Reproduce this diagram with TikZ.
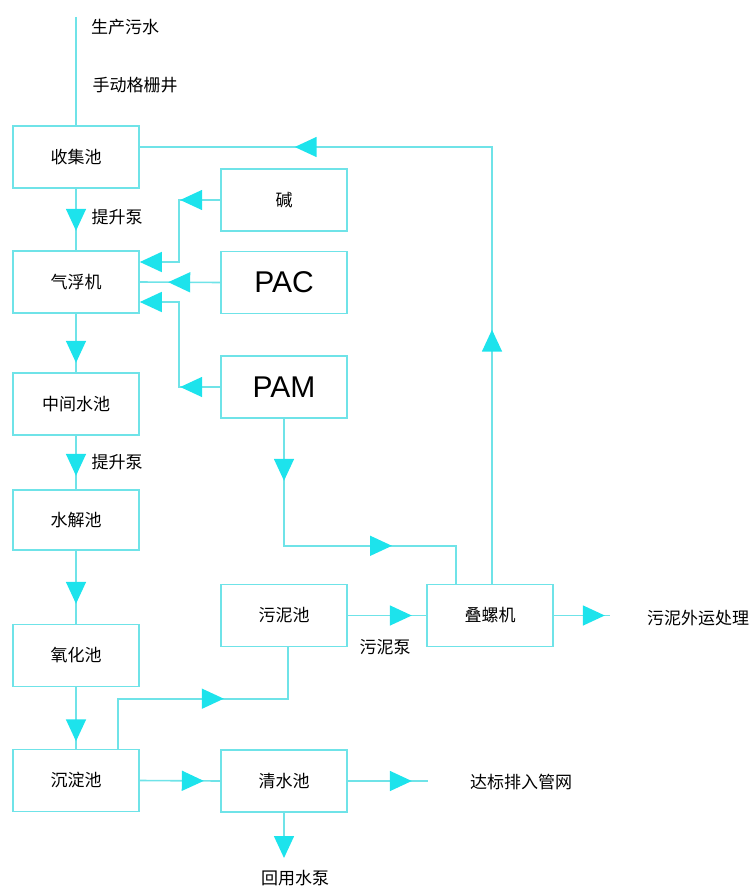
\documentclass[tikz,border=0pt]{standalone}
\usepackage{fontspec}
\setmainfont{Liberation Sans}
\newfontfamily\cjk{Noto Sans CJK SC}
\usetikzlibrary{arrows.meta,decorations.markings}
\definecolor{ln}{HTML}{6FE3E8}
\definecolor{ah}{HTML}{1DE3EC}
\tikzset{
  box/.style={draw=ln, line width=1.6pt, minimum width=126pt, minimum height=62pt, inner sep=0pt, font=\cjk\fontsize{17}{17}\selectfont},
  chem/.style={box, font=\fontsize{30}{30}\selectfont},
  conn/.style={draw=ln, line width=1.6pt},
  endtip/.style={-{Triangle[length=22pt,width=20pt,color=ah]}},
  arrowat/.style={postaction={decorate,decoration={markings,mark=at position #1 with {\arrow{Triangle[length=22pt,width=20pt,color=ah]}}}}},
  lbl/.style={font=\cjk\fontsize{17}{17}\selectfont, inner sep=0pt}
}
\begin{document}
\begin{tikzpicture}[x=1pt,y=-1pt]
\useasboundingbox (0,0) rectangle (754,896);
% boxes
\node[box] (sj)  at (76,157)   {收集池};
\node[box] (qf)  at (76,282)   {气浮机};
\node[box] (zj)  at (76,404)   {中间水池};
\node[box, minimum height=60pt] (sjc) at (76,520) {水解池};
\node[box] (yh)  at (76,655.5) {氧化池};
\node[box] (cd)  at (76,780.5) {沉淀池};
\node[box] (jian) at (284,200) {碱};
\node[chem] (pac) at (284,282.5) {PAC};
\node[chem] (pam) at (284,387) {PAM};
\node[box] (wn)  at (284,615.5) {污泥池};
\node[box] (qs)  at (284,781)   {清水池};
\node[box] (dl)  at (490,615.5) {叠螺机};
% free ends
\coordinate (in) at (76,17);
\coordinate (outsl) at (610,615.5);
\coordinate (outqs) at (428,781);
\coordinate (outhy) at (284,858);
% labels
\node[lbl] (t1) at (125,27) {生产污水};
\node[lbl] (t2) at (135,85) {手动格栅井};
\node[lbl] (t3) at (117,217) {提升泵};
\node[lbl] (t4) at (117,462) {提升泵};
\node[lbl] (t5) at (385,647) {污泥泵};
\node[lbl] (t6) at (698,618) {污泥外运处理};
\node[lbl] (t7) at (521,782) {达标排入管网};
\node[lbl] (t8) at (295,878) {回用水泵};
% main chain
\draw[conn] (in) -- (sj.north);
\draw[conn, arrowat=42pt] (sj.south) -- (qf.north);
\draw[conn, arrowat=49pt] (qf.south) -- (zj.north);
\draw[conn, arrowat=40pt] (zj.south) -- (sjc.north);
\draw[conn, arrowat=53pt] (sjc.south) -- (yh.north);
\draw[conn, arrowat=54pt] (yh.south) -- (cd.north);
\draw[conn, arrowat=64pt] (cd.east) -- (qs.west);
\draw[conn, arrowat=156pt] ([xshift=-22pt]cd.north east) -- ++(0,-50) -| ([xshift=4pt]wn.south);
\draw[conn, arrowat=64pt] (wn.east) -- (dl.west);
\draw[conn, arrowat=51pt] (dl.east) -- (outsl);
\draw[conn, arrowat=64pt] (qs.east) -- (outqs);
\draw[conn, endtip] (qs.south) -- (outhy);
% sludge loop
\draw[conn, arrowat=62pt, arrowat=235pt] (pam.south) -- ++(0,127) -| ([xshift=-34pt]dl.north);
\draw[conn, arrowat=254pt, arrowat=634pt] ([xshift=2pt]dl.north) |- ([yshift=10pt]sj.east);
% chemicals
\draw[conn, arrowat=40pt, endtip] (jian.west) -- ++(-41,0) |- ([yshift=20pt]qf.east);
\draw[conn, arrowat=52pt] (pac.west) -- (qf.east);
\draw[conn, arrowat=40pt, endtip] (pam.west) -- ++(-41,0) |- ([yshift=-20pt]qf.east);
\end{tikzpicture}
\end{document}
